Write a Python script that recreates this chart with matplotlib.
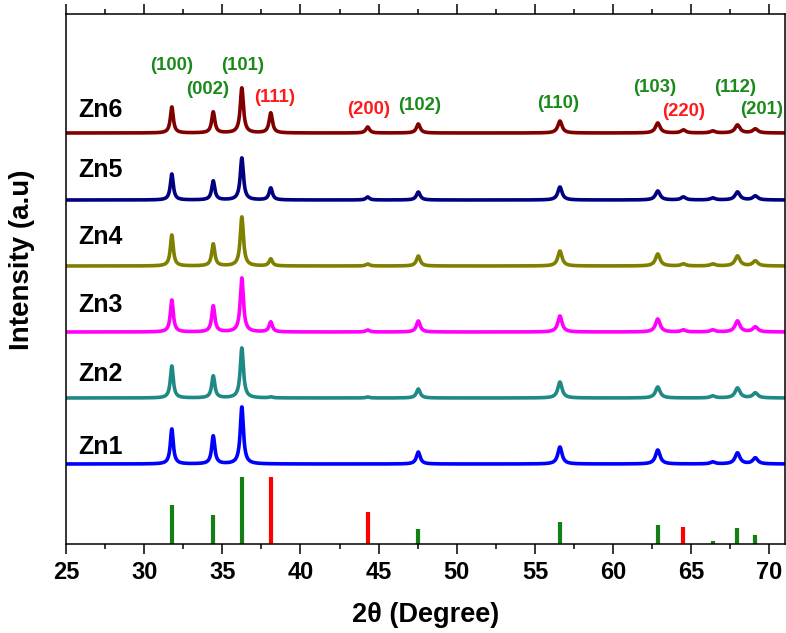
import numpy as np
import matplotlib
matplotlib.use("Agg")
import matplotlib.pyplot as plt
from matplotlib.ticker import MultipleLocator

plt.rcParams['font.family'] = ['Liberation Sans', 'DejaVu Sans']

# ---- data ----
peak_pos = [31.77, 34.42, 36.25, 38.10, 44.30, 47.54, 56.60, 62.86, 64.50, 66.38, 67.96, 69.10]
samples = ["Zn1", "Zn2", "Zn3", "Zn4", "Zn5", "Zn6"]
zn1 = [35, 28, 57, 0, 0, 12, 17, 14, 0, 2, 11, 6]
zn2 = [32, 22, 50, 1, 1, 9, 16, 11, 0, 2, 10, 5]
zn3 = [32, 26, 54, 10, 2, 11, 16, 13, 2, 2, 11, 5]
zn4 = [31, 22, 49, 7, 2, 10, 15, 12, 2, 2, 10, 5]
zn5 = [26, 19, 42, 12, 3, 8, 13, 9, 3, 2, 8, 4]
zn6 = [26, 21, 45, 20, 6, 9, 12, 10, 3, 2, 8, 4]
offsets = [80, 146, 212, 278, 344, 411]
ref_heights = [39, 29, 67, 67, 32, 15, 22, 19, 17, 3, 16, 9]
ref_phase = ["g", "g", "g", "r", "r", "g", "g", "g", "r", "g", "g", "g"]
hkl_labels = ["(100)", "(002)", "(101)", "(111)", "(200)", "(102)", "(110)", "(103)", "(220)", "(112)", "(201)"]
hkl_phase = ["g", "g", "g", "r", "r", "g", "g", "g", "r", "g", "g"]

# ---- layout / style ----
line_colors = ["#0000FF", "#1F8A85", "#FF00FF", "#808000", "#000080", "#800000"]
phase_col = {"g": "#1A8A1A", "r": "#FF1A1A"}
bar_col = {"g": "#128012", "r": "#FF0000"}
hkl_x = [31.75, 34.07, 36.30, 38.35, 44.35, 47.60, 56.50, 62.65, 64.50, 67.80, 69.50]
hkl_y = [478, 455, 478, 446, 435, 438, 441, 457, 432, 457, 435]
name_y = [97, 170, 239, 307, 374, 434]

W, H = 786, 633
fig = plt.figure(figsize=(W / 100, H / 100), dpi=100)
ax = fig.add_axes([66 / W, (H - 544) / H, (785 - 66) / W, (544 - 14) / H])

x = np.linspace(25, 71, 6000)
hwhm = 0.11
for vals, off, col in zip([zn1, zn2, zn3, zn4, zn5, zn6], offsets, line_colors):
    y = np.full_like(x, float(off))
    for p, h in zip(peak_pos, vals):
        w = hwhm + 0.002 * (p - 30)
        y += h / (1 + ((x - p) / w) ** 2)
    ax.plot(x, y, color=col, lw=2.6, solid_capstyle="butt")

for p, h, ph in zip(peak_pos, ref_heights, ref_phase):
    ax.vlines(p, 0, h, color=bar_col[ph], lw=3.0, capstyle="butt")

for t, xx, yy, ph in zip(hkl_labels, hkl_x, hkl_y, hkl_phase):
    ax.text(xx, yy, t, color=phase_col[ph], fontsize=13.3, fontweight="bold",
            ha="center", va="center")

for s, yy in zip(samples, name_y):
    ax.text(25.77, yy, s, color="black", fontsize=18, fontweight="bold",
            ha="left", va="center")

ax.set_xlim(25, 71)
ax.set_ylim(0, 530)
ax.xaxis.set_major_locator(MultipleLocator(5))
ax.xaxis.set_minor_locator(MultipleLocator(2.5))
ax.set_yticks([])
ax.tick_params(axis="x", which="major", direction="out", length=7.5, width=1.1,
               top=True, labeltop=False, labelsize=17, pad=5)
ax.tick_params(axis="x", which="minor", direction="out", length=3.8, width=1.1, top=True)
for lab in ax.get_xticklabels():
    lab.set_fontweight("bold")
for sp in ax.spines.values():
    sp.set_linewidth(1.1)

ax.set_xlabel("2\u03b8 (Degree)", fontsize=19.5, fontweight="bold")
ax.xaxis.label.set_va("center")
ax.xaxis.set_label_coords(0.5, -0.134)
ax.set_ylabel("Intensity (a.u)", fontsize=20, fontweight="bold")
ax.yaxis.label.set_va("center")
ax.yaxis.set_label_coords(-0.0612, 0.536)

fig.savefig("out.png", dpi=100)
